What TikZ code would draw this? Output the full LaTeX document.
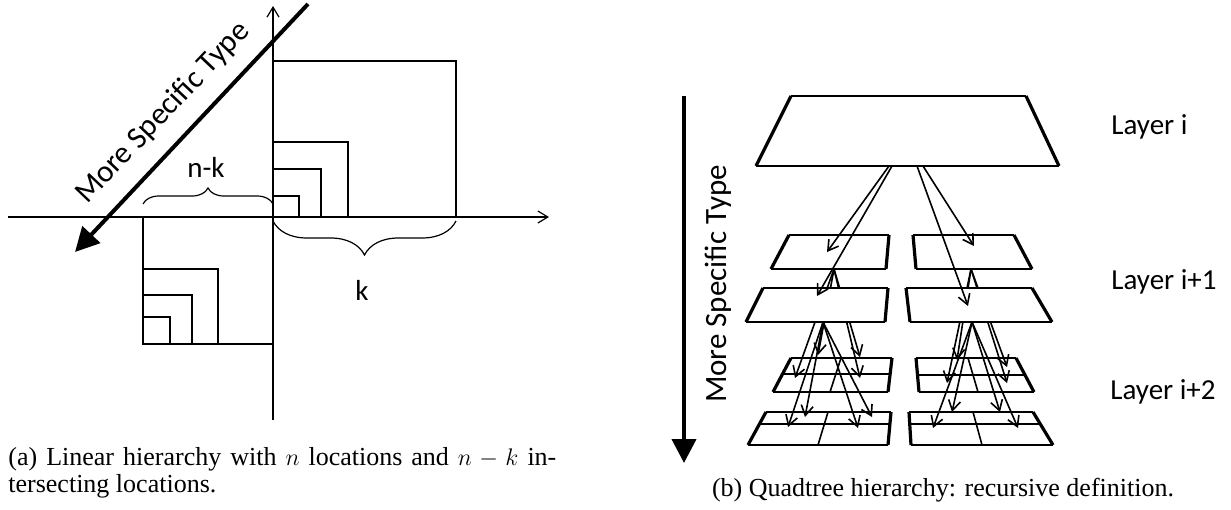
\documentclass[tikz,border=0pt]{standalone}
\usepackage{fontspec}
\setmainfont{Liberation Serif}
\newfontfamily\calibri{Carlito}
\usetikzlibrary{arrows.meta,calc,decorations.pathreplacing}

% one cell of the quadtree: white face, thin rims, thick sides
\newcommand{\qcell}[4]{%
    \fill[white] #1 -- #2 -- #3 -- #4 -- cycle;
    \draw[rim] #1 -- #2 #4 -- #3;
    \draw[side] #1 -- #4 #2 -- #3;
}

\begin{document}
\begin{tikzpicture}[
    x=0.5pt, y=-0.5pt,
    >={Straight Barb[length=5pt,width=6pt]},
    lbl/.style={font=\calibri\fontsize{14.5}{16}\selectfont, inner sep=0pt},
    biglbl/.style={font=\calibri\fontsize{15.5}{17}\selectfont, inner sep=0pt},
    captxt/.style={font=\fontsize{13}{13.5}\selectfont, inner sep=0pt},
    sq/.style={line width=0.6pt},
    axis/.style={line width=0.6pt, ->},
    rim/.style={line width=0.8pt},
    side/.style={line width=1.6pt},
    midline/.style={line width=1.2pt},
    child/.style={->, line width=0.8pt},
    thickarrow/.style={-{Triangle[length=12pt,width=12pt]}, line width=2pt},
]
\useasboundingbox (0,0) rectangle (1231,509);

% ---------------- left: linear hierarchy ----------------
\draw[axis] (8,217) -- (549,217);
\draw[axis] (273,420) -- (273,6);

% upper right: k locations
\draw[sq] (273,217) rectangle (456,61);
\foreach \x/\y in {348/142, 321/169, 299/196}
    \draw[sq] (273,217) rectangle (\x,\y);

% lower left: n-k locations
\draw[sq] (143,217) rectangle (273,344);
\foreach \x/\y in {218/269, 192/295, 170/317}
    \draw[sq] (143,344) rectangle (\x,\y);
\draw[line width=1.2pt] (143,344) -- (218,344);

% braces
\draw[sq, decorate, decoration={brace, amplitude=8pt}] (143,204) -- (273,204);
\node[lbl] (nk) at (206,167) {n-k};
\draw[sq, decorate, decoration={brace, amplitude=17pt}] (456,221) -- (273,221);
\node[lbl] (k) at (362,290) {k};

% direction of specialisation
\coordinate (msa) at (308,4);
\coordinate (msb) at (75,252);
\draw[thickarrow] (msa) -- (msb);
\node[biglbl, rotate=46.5] (mstype) at (163,113) {More Specific Type};

\node[captxt, anchor=base west, text width=274pt, align=justify] (capa) at (8,465)
    {(a) Linear hierarchy with $n$ locations and $n-k$ in-\linebreak tersecting locations.};

% ---------------- right: quadtree ----------------
\coordinate (msc) at (684,96);
\coordinate (msd) at (684,463);
\draw[thickarrow] (msc) -- (msd);
\node[biglbl, rotate=90] (mstype2) at (718,284) {More Specific Type};

% layer i+2: four blocks of 2x2 cells
\foreach \xa/\xb/\xc/\xd/\yt/\ym/\yb/\pa/\pb in {
    791/892/888/773/358/374/392/841/830,
    916/1016/1034/919/358/375/392/968/978,
    766/891/888/748/412/424/445/828/818,
    909/1033/1053/911/412/424/445/973/982}{
    \qcell{(\xa,\yt)}{(\xb,\yt)}{(\xc,\yb)}{(\xd,\yb)}
    \pgfmathsetmacro\fr{(\ym-\yt)/(\yb-\yt)}
    \draw[midline] ($(\xa,\yt)!\fr!(\xd,\yb)$) -- ($(\xb,\yt)!\fr!(\xc,\yb)$);
    \draw[rim] (\pa,\yt) -- (\pb,\yb);
}

% layer i
\qcell{(791,96)}{(1026,96)}{(1059,166)}{(756,166)}

% layer i+1, back row
\qcell{(789,235)}{(889,235)}{(886,269)}{(771,269)}
\qcell{(913,235)}{(1014,235)}{(1032,269)}{(916,269)}

\coordinate (ul) at (834,269);
\coordinate (ur) at (971,269);
\coordinate (ll) at (823,322);
\coordinate (lr) at (972,322);

\foreach \c/\pts in {ul/{818/355,795/378,860/357,860/378},
                     ur/{957/360,947/383,1007/367,1007/383}}{
    \foreach \x/\y [count=\i] in \pts {
        \coordinate (\c-\i) at (\x,\y);
        \draw[child] (\c) -- (\c-\i);
    }
}

% layer i+1, front row (hides the arrows behind it)
\qcell{(763,288)}{(888,288)}{(885,322)}{(746,322)}
\qcell{(906,288)}{(1032,288)}{(1052,322)}{(910,322)}

\foreach \c/\pts in {ll/{788/427,805/417,858/428,872/417},
                     lr/{933/428,952/412,1000/412,1018/428}}{
    \foreach \x/\y [count=\i] in \pts {
        \coordinate (\c-\i) at (\x,\y);
        \draw[child] (\c) -- (\c-\i);
    }
}

% layer i -> layer i+1
\foreach \x/\c/\tx/\ty in {889/ul/827/252, 892/ll/817/296,
                           917/lr/968/306, 923/ur/974/246}{
    \coordinate (top-\c) at (\x,166);
    \coordinate (in-\c) at (\tx,\ty);
    \draw[child] (top-\c) -- (in-\c);
}

\node[lbl, anchor=west] (li0) at (1111,127) {Layer i};
\node[lbl, anchor=west] (li1) at (1111,282) {Layer i+1};
\node[lbl, anchor=west] (li2) at (1110,392) {Layer i+2};

\node[captxt, anchor=base] (capb) at (943,496) {(b) Quadtree hierarchy: recursive definition.};

\end{tikzpicture}
\end{document}
